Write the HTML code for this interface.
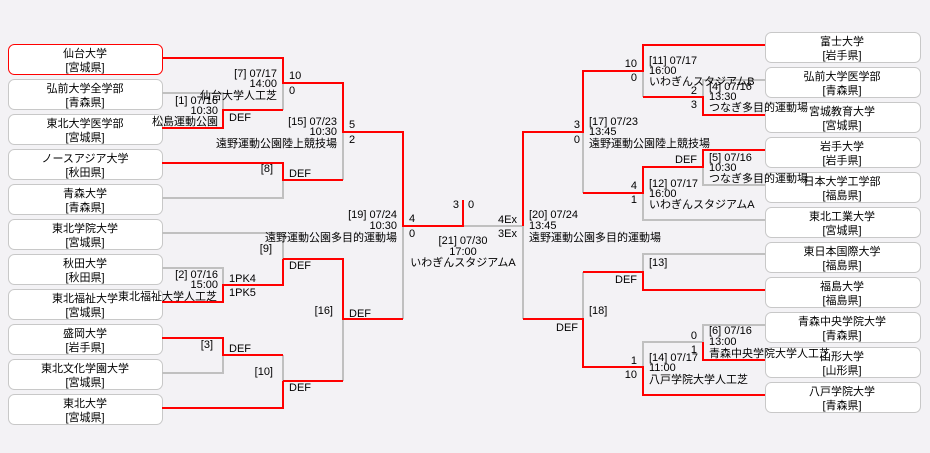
<!DOCTYPE html>
<html><head><meta charset="utf-8"><style>
html,body{margin:0;padding:0;background:#f3f2f5;}
svg{display:block;font-family:"Liberation Sans","Noto Sans CJK JP",sans-serif;font-size:11px;}
</style></head><body>
<svg width="930" height="453" viewBox="0 0 930 453" xmlns="http://www.w3.org/2000/svg">
<rect width="930" height="453" fill="#f3f2f5"/>
<g fill="#fff" stroke="#c8c8c8" stroke-width="1">
<rect x="8.5" y="44.5" width="154" height="30" rx="6" stroke="#f00"/>
<rect x="8.5" y="79.5" width="154" height="30" rx="6"/>
<rect x="8.5" y="114.5" width="154" height="30" rx="6"/>
<rect x="8.5" y="149.5" width="154" height="30" rx="6"/>
<rect x="8.5" y="184.5" width="154" height="30" rx="6"/>
<rect x="8.5" y="219.5" width="154" height="30" rx="6"/>
<rect x="8.5" y="254.5" width="154" height="30" rx="6"/>
<rect x="8.5" y="289.5" width="154" height="30" rx="6"/>
<rect x="8.5" y="324.5" width="154" height="30" rx="6"/>
<rect x="8.5" y="359.5" width="154" height="30" rx="6"/>
<rect x="8.5" y="394.5" width="154" height="30" rx="6"/>
<rect x="765.5" y="32.5" width="155" height="30" rx="6"/>
<rect x="765.5" y="67.5" width="155" height="30" rx="6"/>
<rect x="765.5" y="102.5" width="155" height="30" rx="6"/>
<rect x="765.5" y="137.5" width="155" height="30" rx="6"/>
<rect x="765.5" y="172.5" width="155" height="30" rx="6"/>
<rect x="765.5" y="207.5" width="155" height="30" rx="6"/>
<rect x="765.5" y="242.5" width="155" height="30" rx="6"/>
<rect x="765.5" y="277.5" width="155" height="30" rx="6"/>
<rect x="765.5" y="312.5" width="155" height="30" rx="6"/>
<rect x="765.5" y="347.5" width="155" height="30" rx="6"/>
<rect x="765.5" y="382.5" width="155" height="30" rx="6"/>
</g>
<g fill="none" stroke="#c0c0c0" stroke-width="2">
<path d="M162 93H223V110M283 83V110M162 198H283V180M343 132V180M162 233H283V259M162 268H223V285M162 373H223V355M283 355V381M343 319V381M403 226V319M463 226H523"/>
<path d="M643 71V97M703 97V80H765M583 132V193M703 167V185H765M643 193V220H765M523 226V319M583 319V272M643 272V254H765M643 367V342H703V325H765"/>
</g>
<g fill="none" stroke="#f00" stroke-width="2">
<path d="M162 58H283V83H343V132H403V226H463V200M162 128H223V110H283M162 163H283V180H343M283 259H343V319H403M162 302H223V285H283V259M162 338H223V355H283M283 381H343M162 408H283V381"/>
<path d="M523 226V132H583V71H643V45H765M643 97H703V115H765M583 193H643V167H703V150H765M523 319H583V367H643V395H765M583 272H643V290H765M703 342V360H765"/>
</g>
<g fill="#000" text-anchor="middle">
<text x="85" y="57">仙台大学</text><text x="85" y="71">[宮城県]</text>
<text x="85" y="92">弘前大学全学部</text><text x="85" y="106">[青森県]</text>
<text x="85" y="127">東北大学医学部</text><text x="85" y="141">[宮城県]</text>
<text x="85" y="162">ノースアジア大学</text><text x="85" y="176">[秋田県]</text>
<text x="85" y="197">青森大学</text><text x="85" y="211">[青森県]</text>
<text x="85" y="232">東北学院大学</text><text x="85" y="246">[宮城県]</text>
<text x="85" y="267">秋田大学</text><text x="85" y="281">[秋田県]</text>
<text x="85" y="302">東北福祉大学</text><text x="85" y="316">[宮城県]</text>
<text x="85" y="337">盛岡大学</text><text x="85" y="351">[岩手県]</text>
<text x="85" y="372">東北文化学園大学</text><text x="85" y="386">[宮城県]</text>
<text x="85" y="407">東北大学</text><text x="85" y="421">[宮城県]</text>
<text x="842" y="45">富士大学</text><text x="842" y="59">[岩手県]</text>
<text x="842" y="80">弘前大学医学部</text><text x="842" y="94">[青森県]</text>
<text x="842" y="115">宮城教育大学</text><text x="842" y="129">[宮城県]</text>
<text x="842" y="150">岩手大学</text><text x="842" y="164">[岩手県]</text>
<text x="842" y="185">日本大学工学部</text><text x="842" y="199">[福島県]</text>
<text x="842" y="220">東北工業大学</text><text x="842" y="234">[宮城県]</text>
<text x="842" y="255">東日本国際大学</text><text x="842" y="269">[福島県]</text>
<text x="842" y="290">福島大学</text><text x="842" y="304">[福島県]</text>
<text x="842" y="325">青森中央学院大学</text><text x="842" y="339">[青森県]</text>
<text x="842" y="360">山形大学</text><text x="842" y="374">[山形県]</text>
<text x="842" y="395">八戸学院大学</text><text x="842" y="409">[青森県]</text>
<text x="463" y="244">[21] 07/30</text><text x="463" y="255">17:00</text><text x="463" y="266">いわぎんスタジアムA</text>
</g>
<g fill="#000" text-anchor="end">
<text x="218" y="104">[1] 07/16</text><text x="218" y="114">10:30</text><text x="218" y="125">松島運動公園</text>
<text x="277" y="77">[7] 07/17</text><text x="277" y="87">14:00</text><text x="277" y="99">仙台大学人工芝</text>
<text x="337" y="125">[15] 07/23</text><text x="337" y="135">10:30</text><text x="337" y="147">遠野運動公園陸上競技場</text>
<text x="273" y="172">[8]</text><text x="272" y="252">[9]</text>
<text x="218" y="278">[2] 07/16</text><text x="218" y="288">15:00</text><text x="217" y="300">東北福祉大学人工芝</text>
<text x="213" y="348">[3]</text><text x="273" y="375">[10]</text><text x="333" y="314">[16]</text>
<text x="397" y="218">[19] 07/24</text><text x="397" y="229">10:30</text><text x="397" y="241">遠野運動公園多目的運動場</text>
<text x="459" y="208">3</text><text x="517" y="223">4Ex</text><text x="517" y="237">3Ex</text>
<text x="580" y="128">3</text><text x="580" y="143">0</text>
<text x="637" y="67">10</text><text x="637" y="81">0</text>
<text x="697" y="94">2</text><text x="697" y="108">3</text>
<text x="637" y="189">4</text><text x="637" y="203">1</text>
<text x="697" y="163">DEF</text><text x="637" y="283">DEF</text><text x="578" y="331">DEF</text>
<text x="697" y="339">0</text><text x="697" y="353">1</text>
<text x="637" y="364">1</text><text x="637" y="378">10</text>
</g>
<g fill="#000">
<text x="229" y="121">DEF</text>
<text x="289" y="79">10</text><text x="289" y="94">0</text>
<text x="349" y="128">5</text><text x="349" y="143">2</text>
<text x="289" y="177">DEF</text><text x="289" y="269">DEF</text>
<text x="229" y="282">1PK4</text><text x="229" y="296">1PK5</text>
<text x="229" y="352">DEF</text><text x="289" y="391">DEF</text><text x="349" y="317">DEF</text>
<text x="409" y="222">4</text><text x="409" y="237">0</text><text x="468" y="208">0</text>
<text x="529" y="218">[20] 07/24</text><text x="529" y="229">13:45</text><text x="529" y="241">遠野運動公園多目的運動場</text>
<text x="589" y="125">[17] 07/23</text><text x="589" y="135">13:45</text><text x="589" y="147">遠野運動公園陸上競技場</text>
<text x="649" y="64">[11] 07/17</text><text x="649" y="74">16:00</text><text x="649" y="85">いわぎんスタジアムB</text>
<text x="709" y="90">[4] 07/16</text><text x="709" y="100">13:30</text><text x="709" y="111">つなぎ多目的運動場</text>
<text x="649" y="187">[12] 07/17</text><text x="649" y="197">16:00</text><text x="649" y="208">いわぎんスタジアムA</text>
<text x="709" y="161">[5] 07/16</text><text x="709" y="171">10:30</text><text x="709" y="182">つなぎ多目的運動場</text>
<text x="649" y="266">[13]</text><text x="589" y="314">[18]</text>
<text x="709" y="334">[6] 07/16</text><text x="709" y="345">13:00</text><text x="709" y="357">青森中央学院大学人工芝</text>
<text x="649" y="361">[14] 07/17</text><text x="649" y="371">11:00</text><text x="649" y="383">八戸学院大学人工芝</text>
</g>
</svg>
</body></html>
